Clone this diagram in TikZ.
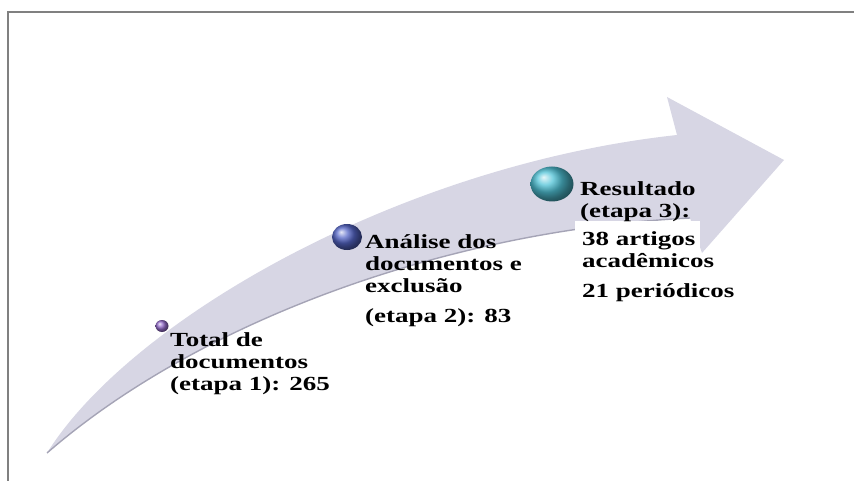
\documentclass[tikz,border=0pt]{standalone}
\usepackage{fontspec}
\setmainfont[FakeStretch=1.35]{Liberation Serif}
\usetikzlibrary{shapes.geometric}
\definecolor{arrowfill}{RGB}{215,214,228}
\definecolor{arrowshade}{RGB}{165,164,182}
\definecolor{framegray}{RGB}{128,128,128}
\definecolor{stepone}{RGB}{150,110,205}
\definecolor{steptwo}{RGB}{85,102,200}
\definecolor{stepthree}{RGB}{80,195,215}
\tikzset{
  steptext/.style={anchor=base west, align=left, inner sep=0pt,
    font=\fontsize{20}{22}\selectfont\bfseries},
  bead/.style={ellipse, draw=none, shading=ball, inner sep=0pt},
}
\begin{document}
\begin{tikzpicture}[x=1pt,y=-1pt]
  \useasboundingbox (0,0) rectangle (854,481);
  % frame
  \draw[framegray, line width=1.2pt] (8,481) -- (8,12) -- (854,12);
  % curved arrow
  \fill[arrowfill]
    (47,453) .. controls (130,320) and (400,165) .. (677,135)
    -- (667,97) -- (784,160) -- (702,253) -- (690,218)
    .. controls (450,230) and (200,320) .. (47,453) -- cycle;
  \draw[arrowshade, line width=1.4pt]
    (690,218) .. controls (450,230) and (200,320) .. (47,453);
  \fill[white] (575,221) rectangle (700,312);
  % beads
  \node[bead, ball color=stepone, minimum width=13pt, minimum height=12pt] (b1) at (162,326) {};
  \node[bead, ball color=steptwo, minimum width=30pt, minimum height=26pt] (b2) at (347,237) {};
  \node[bead, ball color=stepthree, minimum width=43pt, minimum height=35pt] (b3) at (552,184) {};
  % texts (placed by the baseline of their last line)
  \node[steptext] (t1) at (170,390) {Total de\\documentos\\(etapa 1): 265};
  \node[steptext] (t2) at (365,322) {Análise dos\\documentos e\\exclusão\\[8pt](etapa 2): 83};
  \node[steptext] (t3) at (580,218) {Resultado\\(etapa 3):};
  \node[steptext] (t4) at (582,297) {38 artigos\\acadêmicos\\[8pt]21 periódicos};
\end{tikzpicture}
\end{document}
